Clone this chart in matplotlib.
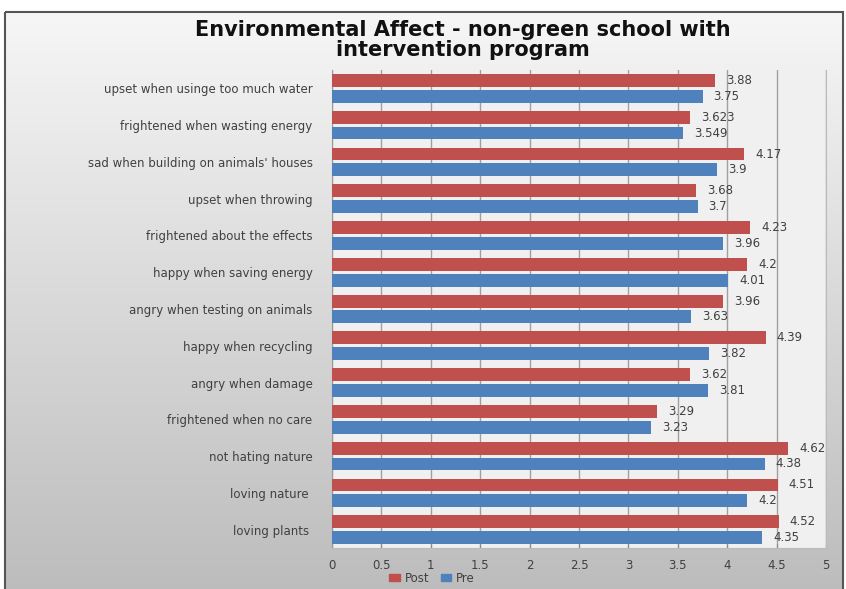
import matplotlib
matplotlib.use("Agg")
import matplotlib.pyplot as plt
import numpy as np
from matplotlib.patches import Rectangle, Patch

categories = [
    "upset when usinge too much water",
    "frightened when wasting energy",
    "sad when building on animals' houses",
    "upset when throwing",
    "frightened about the effects",
    "happy when saving energy",
    "angry when testing on animals",
    "happy when recycling",
    "angry when damage",
    "frightened when no care",
    "not hating nature",
    "loving nature ",
    "loving plants ",
]
post = [3.88, 3.623, 4.17, 3.68, 4.23, 4.2, 3.96, 4.39, 3.62, 3.29, 4.62, 4.51, 4.52]
pre = [3.75, 3.549, 3.9, 3.7, 3.96, 4.01, 3.63, 3.82, 3.81, 3.23, 4.38, 4.2, 4.35]
post_labels = ["3.88", "3.623", "4.17", "3.68", "4.23", "4.2", "3.96", "4.39", "3.62", "3.29", "4.62", "4.51", "4.52"]
pre_labels = ["3.75", "3.549", "3.9", "3.7", "3.96", "4.01", "3.63", "3.82", "3.81", "3.23", "4.38", "4.2", "4.35"]
xticks = [0, 0.5, 1, 1.5, 2, 2.5, 3, 3.5, 4, 4.5, 5]
xtick_labels = ["0", "0.5", "1", "1.5", "2", "2.5", "3", "3.5", "4", "4.5", "5"]
title = "Environmental Affect - non-green school with\nintervention program"

RED = "#C0504D"
BLUE = "#4F81BD"
TXT = "#404040"

W, H = 846, 589
fig = plt.figure(figsize=(W / 100, H / 100), dpi=100)
fig.patch.set_facecolor("white")

# background gradient frame
bg = fig.add_axes([0, 0, 1, 1], zorder=-10)
bg.set_xlim(0, W)
bg.set_ylim(H, 0)
bg.axis("off")
grad = np.linspace(0, 1, 256).reshape(-1, 1)
top_c = np.array([0.965, 0.965, 0.965])
bot_c = np.array([0.74, 0.74, 0.74])
img = top_c[None, None, :] * (1 - grad[:, :, None]) + bot_c[None, None, :] * grad[:, :, None]
bg.imshow(img, extent=[5, 843, 589, 12], aspect="auto", zorder=0)
bg.add_patch(Rectangle((5, 12), 838, 590, fill=False, edgecolor="#555555", lw=1.5, zorder=1))

ax = fig.add_axes([332 / W, 1 - 548 / H, (826 - 332) / W, (548 - 70) / H])
ax.set_facecolor("#f0f0f0")

n = len(categories)
y = np.arange(n)
h = 0.35
off = 0.215
ax.barh(y - off, post, height=h, color=RED, label="Post", zorder=3)
ax.barh(y + off, pre, height=h, color=BLUE, label="Pre", zorder=3)

for yi, v, s in zip(y, post, post_labels):
    ax.annotate(s, (v, yi - off), xytext=(8, 0), textcoords="offset points",
                va="center", ha="left", fontsize=8.5, color=TXT)
for yi, v, s in zip(y, pre, pre_labels):
    ax.annotate(s, (v, yi + off), xytext=(8, 0), textcoords="offset points",
                va="center", ha="left", fontsize=8.5, color=TXT)

ax.set_xlim(0, 5)
ax.set_ylim(n - 0.5, -0.5)
ax.set_xticks(xticks)
ax.set_xticklabels(xtick_labels, fontsize=8.5, color=TXT)
ax.set_yticks(y)
ax.set_yticklabels(categories, fontsize=8.5, color=TXT)
ax.tick_params(axis="y", length=0, pad=14)
ax.tick_params(axis="x", length=3, direction="in", color="#888888", pad=8)
ax.grid(axis="x", color="#a0a0a0", lw=1, zorder=0)
ax.spines["top"].set_visible(False)
ax.spines["right"].set_color("#bbbbbb")
ax.spines["left"].set_color("#999999")
ax.spines["bottom"].set_color("#bbbbbb")

fig.text(463 / W, 1 - 40 / H, title, ha="center", va="center", fontsize=15,
         fontweight="bold", color="#111111", linespacing=1.0)

handles = [Patch(color=RED, label="Post"), Patch(color=BLUE, label="Pre")]
fig.legend(handles=handles, loc="center", bbox_to_anchor=(432 / W, 1 - 578 / H), ncol=2,
           frameon=False, fontsize=8.5, handlelength=0.9, handleheight=0.6,
           columnspacing=1.0, handletextpad=0.4, labelcolor=TXT)

fig.savefig("out.png", dpi=100)
